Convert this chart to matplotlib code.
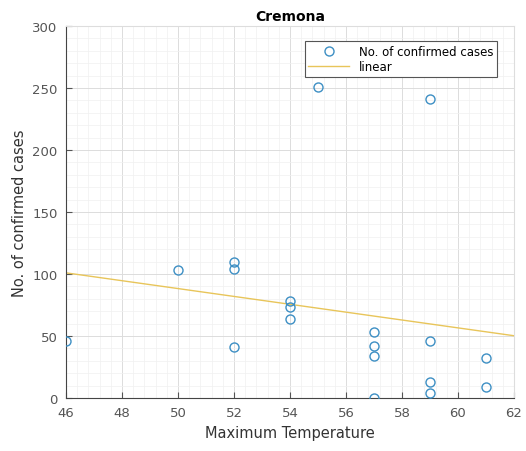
import numpy as np
import matplotlib.pyplot as plt
from matplotlib.ticker import MultipleLocator

# max temperature vs confirmed cases, Cremona
max_temp = [46, 50, 52, 52, 52, 54, 54, 54, 55, 57, 57, 57, 57, 59, 59, 59, 59, 61, 61]
cases = [46, 103, 110, 104, 41, 78, 73, 64, 251, 53, 42, 34, 0, 241, 46, 13, 4, 32, 9]

coef = np.polyfit(max_temp, cases, 1)
xfit = np.array([46, 62])
yfit = np.polyval(coef, xfit)

fig = plt.figure(figsize=(5.26, 4.52), dpi=100)
ax = fig.add_axes([66/526, 53/452, 448/526, 372/452])

ax.plot(max_temp, cases, 'o', mfc='none', mec='#3d8fc4', mew=1.0, ms=6.5,
        label='No. of confirmed cases', zorder=3)
ax.plot(xfit, yfit, '-', color='#e8c55a', lw=1.0, label='linear')

ax.set_xlim(46, 62)
ax.set_ylim(0, 300)
ax.xaxis.set_major_locator(MultipleLocator(2))
ax.yaxis.set_major_locator(MultipleLocator(50))
ax.xaxis.set_minor_locator(MultipleLocator(0.4))
ax.yaxis.set_minor_locator(MultipleLocator(10))
ax.grid(True, which='major', color='#dcdcdc', lw=0.7)
ax.grid(True, which='minor', color='#f0f0f0', lw=0.5)
ax.set_axisbelow(True)

for s in ['top', 'right']:
    ax.spines[s].set_color('#dddddd')
for s in ['left', 'bottom']:
    ax.spines[s].set_color('#444444')
ax.tick_params(which='both', direction='in', length=0, labelsize=9.5, colors='#555555', pad=6)
ax.tick_params(which='major', length=4, top=False, right=False)

ax.set_xlabel('Maximum Temperature', fontsize=10.5, color='#333333')
ax.set_ylabel('No. of confirmed cases', fontsize=10.5, color='#333333')
ax.set_title('Cremona', fontsize=10, fontweight='bold', pad=4)

leg = ax.legend(loc='upper right', fontsize=8.5, fancybox=False, framealpha=1,
                edgecolor='#555555', borderpad=0.3, labelspacing=0.2,
                handlelength=3.5, bbox_to_anchor=(0.975, 0.975))
leg.get_frame().set_linewidth(0.8)

fig.savefig('out.png', dpi=100)
